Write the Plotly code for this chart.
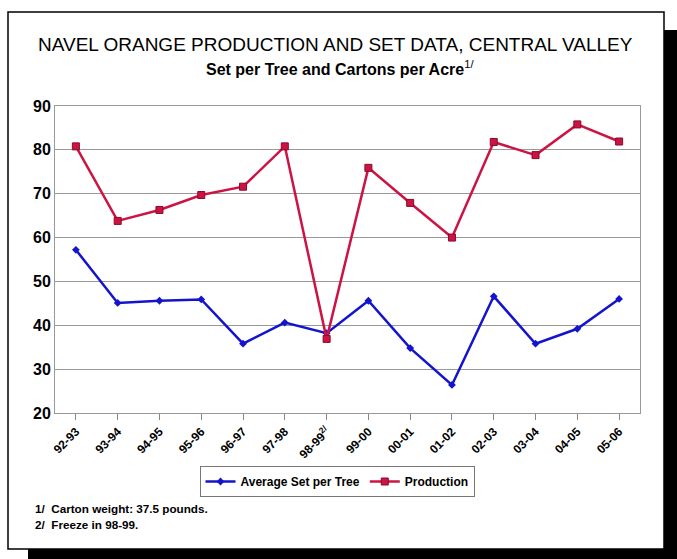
import plotly.graph_objects as go

categories = ["92-93", "93-94", "94-95", "95-96", "96-97", "97-98", "98-99",
              "99-00", "00-01", "01-02", "02-03", "03-04", "04-05", "05-06"]
tick_labels = ["92-93", "93-94", "94-95", "95-96", "96-97", "97-98", "98-99<sup>2/</sup>",
               "99-00", "00-01", "01-02", "02-03", "03-04", "04-05", "05-06"]
avg_set_per_tree = [57.2, 45.1, 45.6, 45.9, 35.8, 40.6, 38.2, 45.6, 34.8, 26.4, 46.6, 35.8, 39.2, 46.0]
production = [80.8, 63.8, 66.3, 69.7, 71.6, 80.8, 36.9, 75.9, 67.9, 60.0, 81.8, 78.8, 85.8, 81.9]

W, H = 677, 559
L, R, T, B = 55, 640, 106, 413

def px(x):
    return (x - L) / (R - L)

def py(y):
    return 1 - (y - T) / (B - T)

FONT = "Liberation Sans, Arial, sans-serif"
xs = list(range(len(categories)))

fig = go.Figure()
fig.add_trace(go.Scatter(
    x=xs, y=avg_set_per_tree, name="<b>Average Set per Tree</b>", mode="lines+markers",
    line=dict(color="#1414CC", width=2.5),
    marker=dict(symbol="diamond", size=6, color="#1414CC"),
))
fig.add_trace(go.Scatter(
    x=xs, y=production, name="<b>Production</b>", mode="lines+markers",
    line=dict(color="#CC1444", width=2.5),
    marker=dict(symbol="square", size=7, color="#CC1444", line=dict(color="#8A0A2A", width=1)),
))

shapes = [
    dict(type="rect", xref="paper", yref="paper", x0=px(664), x1=px(678), y0=py(560), y1=py(30),
         fillcolor="black", line=dict(width=0), layer="below"),
    dict(type="rect", xref="paper", yref="paper", x0=px(28), x1=px(678), y0=py(560), y1=py(549),
         fillcolor="black", line=dict(width=0), layer="below"),
    dict(type="rect", xref="paper", yref="paper", x0=px(8), x1=px(664), y0=py(549), y1=py(12),
         fillcolor="white", line=dict(color="black", width=1.5), layer="below"),
]

annotations = [
    dict(text="NAVEL ORANGE PRODUCTION AND SET DATA, CENTRAL VALLEY", xref="paper", yref="paper",
         x=px(335), y=py(45), showarrow=False, xanchor="center", yanchor="middle",
         font=dict(family=FONT, size=19, color="black")),
    dict(text="<b>Set per Tree and Cartons per Acre</b><sup>1/</sup>", xref="paper", yref="paper",
         x=px(340), y=py(68), showarrow=False, xanchor="center", yanchor="middle",
         font=dict(family=FONT, size=16, color="black")),
    dict(text="<b>1/  Carton weight: 37.5 pounds.</b>", xref="paper", yref="paper",
         x=px(33), y=py(508), showarrow=False, xanchor="left", yanchor="middle",
         font=dict(family=FONT, size=11.7, color="black")),
    dict(text="<b>2/  Freeze in 98-99.</b>", xref="paper", yref="paper",
         x=px(33), y=py(524), showarrow=False, xanchor="left", yanchor="middle",
         font=dict(family=FONT, size=11.7, color="black")),
]

fig.update_layout(
    width=W, height=H,
    margin=dict(l=L, r=W - R, t=T, b=H - B),
    paper_bgcolor="white", plot_bgcolor="white",
    font=dict(family=FONT, color="black"),
    showlegend=True,
    legend=dict(orientation="h", x=px(337), y=py(466), xanchor="center", yanchor="top",
                bordercolor="#777777", borderwidth=1, bgcolor="white",
                font=dict(family=FONT, size=12, color="black"),
                itemwidth=30),
    shapes=shapes,
    annotations=annotations,
    xaxis=dict(
        range=[-0.5, len(categories) - 0.5], tickmode="array", tickvals=xs,
        ticktext=["<b>" + t + "</b>" for t in tick_labels], tickangle=-45,
        ticks="outside", ticklen=6, tickcolor="#888888", showgrid=False,
        showline=True, linecolor="#999999", linewidth=1, mirror=True, zeroline=False,
        tickfont=dict(family=FONT, size=12, color="black"),
    ),
    yaxis=dict(
        range=[20, 90], dtick=10, tick0=20, showgrid=True, gridcolor="#999999", gridwidth=1,
        showline=True, linecolor="#999999", linewidth=1, mirror=True, zeroline=False,
        ticks="", tickfont=dict(family=FONT, size=16, color="black"),
        tickprefix="<b>", ticksuffix="</b>",
    ),
)

fig.write_html("out.html", config={"displayModeBar": False},
               post_script="document.body.style.margin='0';document.body.style.overflow='hidden';")
